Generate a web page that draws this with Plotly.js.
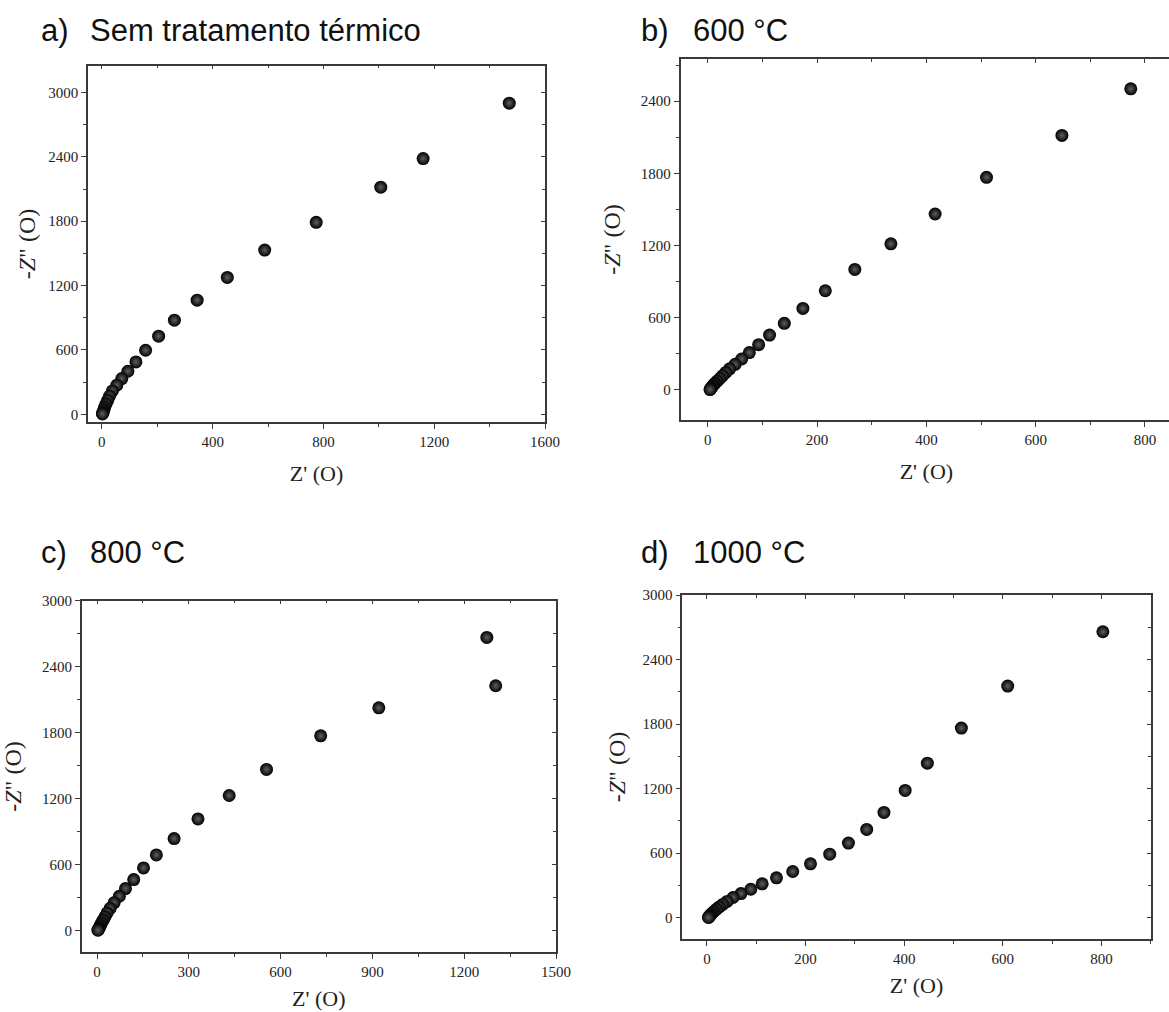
<!DOCTYPE html>
<html>
<head>
<meta charset="utf-8">
<script src="https://cdn.plot.ly/plotly-3.0.1.min.js"></script>
<style>
  html, body { margin: 0; padding: 0; overflow: hidden; background: #fff; width: 1169px; height: 1012px; }
  #chart { width: 1200px; height: 1012px; }
</style>
</head>
<body>
<div id="chart"></div>
<script>
// ---- Data ----
const panelTitles = ["Sem tratamento térmico", "600 °C", "800 °C", "1000 °C"];
const panelLabels = ["a)", "b)", "c)", "d)"];

const aX = [1471, 1160, 1007, 774, 588, 453, 344, 262, 205, 158, 123, 94, 72, 54, 38, 28, 21, 15, 10, 7, 5, 3, 2];
const aY = [2901, 2384, 2117, 1790, 1531, 1276, 1064, 877, 728, 597, 488, 401, 333, 271, 218, 170, 130, 95, 65, 40, 22, 10, 3];

const bX = [774, 648, 510, 416, 335, 269, 215, 174, 140, 113, 93, 76, 62, 50, 40, 33, 27, 22, 17, 13, 10, 8, 6, 5, 4];
const bY = [2502, 2115, 1767, 1462, 1214, 1001, 824, 677, 553, 456, 376, 310, 257, 213, 175, 145, 118, 95, 73, 55, 40, 27, 16, 8, 3];

const cX = [1274, 1303, 921, 731, 554, 432, 330, 252, 194, 152, 120, 93, 73, 56, 43, 33, 26, 20, 15, 11, 8, 6, 4, 3];
const cY = [2666, 2226, 2025, 1770, 1464, 1227, 1014, 835, 686, 568, 462, 380, 310, 252, 200, 158, 122, 92, 66, 45, 28, 15, 6, 1];

const dX = [803, 610, 516, 447, 402, 359, 324, 287, 249, 210, 174, 141, 112, 89, 69, 53, 41, 32, 25, 19, 14, 10, 7, 5, 4, 3];
const dY = [2658, 2153, 1762, 1436, 1182, 977, 819, 692, 589, 499, 428, 369, 313, 263, 223, 186, 150, 122, 98, 76, 56, 38, 23, 12, 4, 0];

const xRanges = [[-50, 1600], [-50, 850], [-50, 1500], [-50, 900]];
const yRanges = [[-75, 3250], [-250, 2750], [-200, 3000], [-200, 3000]];
const xDticks = [400, 200, 300, 200];
const yDticks = [600, 600, 600, 600];

const xTitle = "Z' (O)";
const yTitle = "-<i>Z</i>\" (O)";

// ---- Layout geometry (pixels) ----
const W = 1200, H = 1012;
const boxes = [
  {l: 88,    r: 545,    t: 65.7, b: 422.3},
  {l: 680.5, r: 1172.3, t: 59,   b: 420},
  {l: 81.7,  r: 556,    t: 600.7, b: 952.3},
  {l: 682.3, r: 1150.7, t: 595,  b: 939}
];
const titlePos = [
  {lx: 39, tx: 88, y: 30},
  {lx: 639, tx: 691, y: 30},
  {lx: 39, tx: 88, y: 552},
  {lx: 639, tx: 691, y: 552}
];
const xStandoff = [17, 17, 12, 12];
const yStandoff = [6, 13, 15, 10];

const xs = [aX, bX, cX, dX];
const ys = [aY, bY, cY, dY];

const axColor = '#3a3a3a';
const tickFont = {family: 'Liberation Serif, Times New Roman, serif', size: 15, color: '#222'};
const titleFont = {family: 'Liberation Serif, Times New Roman, serif', size: 22, color: '#222'};
const yTitleFont = {family: 'Liberation Serif, Times New Roman, serif', size: 24, color: '#222'};

const traces = [];
const layout = {
  width: W, height: H,
  margin: {l: 0, r: 0, t: 0, b: 0},
  paper_bgcolor: '#fff', plot_bgcolor: '#fff',
  showlegend: false,
  annotations: []
};

for (let i = 0; i < 4; i++) {
  const n = i + 1;
  const xa = n === 1 ? 'x' : 'x' + n;
  const ya = n === 1 ? 'y' : 'y' + n;
  const xk = n === 1 ? 'xaxis' : 'xaxis' + n;
  const yk = n === 1 ? 'yaxis' : 'yaxis' + n;
  const bx = boxes[i];
  const xd = [bx.l / W, bx.r / W];
  const yd = [(H - bx.b) / H, (H - bx.t) / H];

  traces.push({
    type: 'scatter', mode: 'markers',
    x: xs[i], y: ys[i], xaxis: xa, yaxis: ya,
    marker: {size: 13, color: '#000', gradient: {type: 'radial', color: '#606060'}, line: {width: 0}},
    hoverinfo: 'x+y'
  });

  layout[xk] = {
    domain: xd, anchor: ya, range: xRanges[i], dtick: xDticks[i], tick0: 0,
    showgrid: false, zeroline: false, showline: true, linecolor: axColor, linewidth: 1.5,
    ticks: 'outside', ticklen: 5, tickwidth: 1.2, tickcolor: axColor,
    minor: {dtick: xDticks[i] / 2, tick0: 0, ticks: 'outside', ticklen: 3, tickwidth: 1, tickcolor: axColor},
    tickfont: tickFont,
    title: {text: xTitle, font: titleFont, standoff: xStandoff[i]},
    automargin: false
  };
  layout[yk] = {
    domain: yd, anchor: xa, range: yRanges[i], dtick: yDticks[i], tick0: 0,
    showgrid: false, zeroline: false, showline: true, linecolor: axColor, linewidth: 1.5,
    ticks: 'outside', ticklen: 5, tickwidth: 1.2, tickcolor: axColor,
    minor: {dtick: yDticks[i] / 2, tick0: 0, ticks: 'outside', ticklen: 3, tickwidth: 1, tickcolor: axColor},
    tickfont: tickFont,
    title: {text: yTitle, font: yTitleFont, standoff: yStandoff[i]},
    automargin: false
  };

  // mirrored top / right axes with inward ticks
  const mxk = 'xaxis' + (n + 4), myk = 'yaxis' + (n + 4);
  layout[mxk] = {
    overlaying: xa, side: 'top', anchor: ya, range: xRanges[i], dtick: xDticks[i], tick0: 0,
    showgrid: false, zeroline: false, showline: true, linecolor: axColor, linewidth: 1.5,
    ticks: 'inside', ticklen: 4, tickwidth: 1.2, tickcolor: axColor, showticklabels: false,
    minor: {dtick: xDticks[i] / 2, tick0: 0, ticks: 'inside', ticklen: 3, tickwidth: 1, tickcolor: axColor}
  };
  layout[myk] = {
    overlaying: ya, side: 'right', anchor: xa, range: yRanges[i], dtick: yDticks[i], tick0: 0,
    showgrid: false, zeroline: false, showline: true, linecolor: axColor, linewidth: 1.5,
    ticks: 'inside', ticklen: 4, tickwidth: 1.2, tickcolor: axColor, showticklabels: false,
    minor: {dtick: yDticks[i] / 2, tick0: 0, ticks: 'inside', ticklen: 3, tickwidth: 1, tickcolor: axColor}
  };
  // empty traces so mirrored axes are drawn
  traces.push({type: 'scatter', mode: 'markers', x: [], y: [], xaxis: 'x' + (n + 4), yaxis: ya, hoverinfo: 'skip', showlegend: false});
  traces.push({type: 'scatter', mode: 'markers', x: [], y: [], xaxis: xa, yaxis: 'y' + (n + 4), hoverinfo: 'skip', showlegend: false});

  const tp = titlePos[i];
  const pFont = {family: 'Liberation Sans, Arial, sans-serif', size: 31, color: '#111'};
  layout.annotations.push({
    text: panelLabels[i], xref: 'paper', yref: 'paper', x: tp.lx / W, y: (H - tp.y) / H,
    xanchor: 'left', yanchor: 'middle', showarrow: false, font: pFont
  });
  layout.annotations.push({
    text: panelTitles[i], xref: 'paper', yref: 'paper', x: tp.tx / W, y: (H - tp.y) / H,
    xanchor: 'left', yanchor: 'middle', showarrow: false, font: pFont
  });
}

Plotly.newPlot('chart', traces, layout, {displayModeBar: false, staticPlot: false});
</script>
</body>
</html>
